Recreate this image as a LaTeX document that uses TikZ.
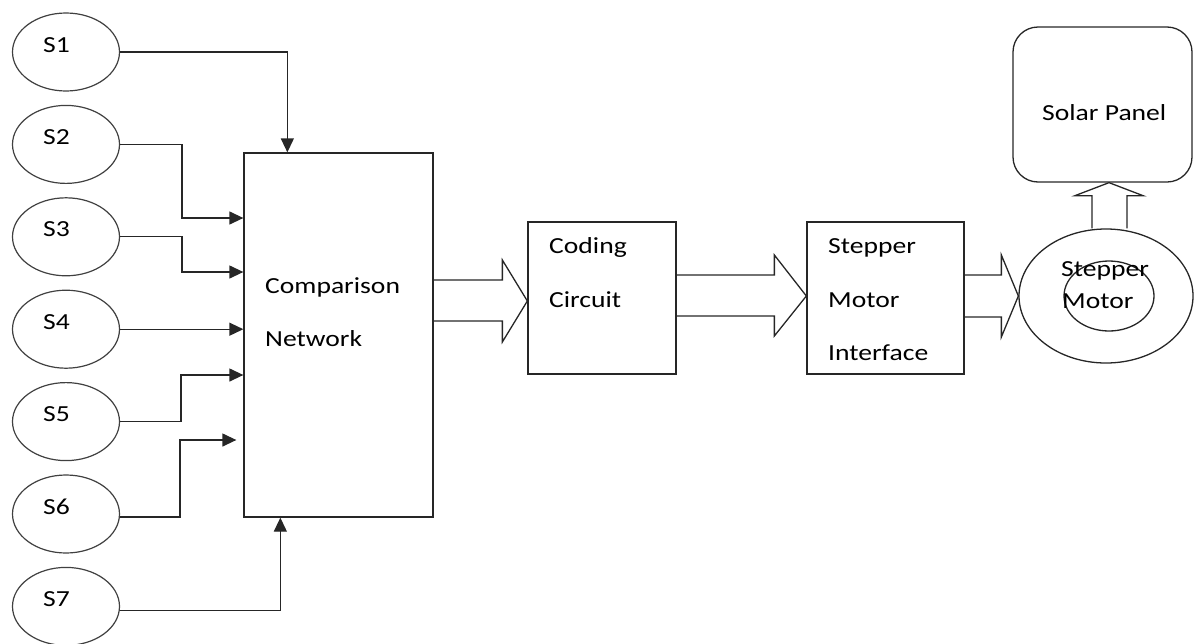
\documentclass[tikz,border=0pt]{standalone}
\usepackage{fontspec}
\setmainfont{Carlito}[FakeStretch=1.2]
\usetikzlibrary{arrows.meta,shapes.geometric,calc}

\tikzset{
  line/.style={draw=black!85, line width=1.3pt},
  sensor/.style={ellipse, draw=black!75, line width=1.2pt, minimum width=107pt, minimum height=78pt, inner sep=0pt},
  block/.style={rectangle, line, inner sep=0pt},
  txt/.style={anchor=base west, inner sep=0pt, font=\fontsize{23}{28}\selectfont},
  sig/.style={line, -{Triangle[length=14pt,width=13pt]}},
  fat/.style={line, line join=miter},
}

\begin{document}
\begin{tikzpicture}[x=1pt,y=-1pt]
  \useasboundingbox (0,0) rectangle (1194,643);
  % sensors
  \foreach \i in {1,...,7} {
    \node[sensor] (s\i) at (66,{52+92.4*(\i-1)}) {};
    \node[txt] (l\i) at (43,{52+92.4*(\i-1)}) {S\i};
  }
  % blocks
  \node[block, minimum width=189pt, minimum height=364pt] (cmp) at (338.5,335) {};
  \node[block, minimum width=148pt, minimum height=152pt] (cod) at (602,298) {};
  \node[block, minimum width=157pt, minimum height=152pt] (sti) at (885.5,298) {};
  \node[block, rounded corners=25pt, minimum width=179pt, minimum height=155pt] (sol) at (1102.5,104.5) {};
  \node[ellipse, line, minimum width=174pt, minimum height=134pt, inner sep=0pt] (mot) at (1106,296) {};
  \node[ellipse, line, minimum width=90pt, minimum height=70pt, inner sep=0pt] (rot) at (1109,296) {};
  % texts
  \node[txt] (cmp1) at (265,293) {Comparison};
  \node[txt] (cmp2) at (265,346) {Network};
  \node[txt] (cod1) at (549,253) {Coding};
  \node[txt] (cod2) at (549,307) {Circuit};
  \node[txt] (sti1) at (828,253) {Stepper};
  \node[txt] (sti2) at (828,307) {Motor};
  \node[txt] (sti3) at (828,360) {Interface};
  \node[txt] (mot1) at (1061,276) {Stepper};
  \node[txt] (mot2) at (1062,308) {Motor};
  \node[txt] (sol1) at (1042,120) {Solar Panel};
  % sensor lines
  \draw[sig] (s1.east) -| ([xshift=44pt]cmp.north west);
  \draw[sig] (s2.east) -- ++(62,0) |- (cmp.west |- 0,218);
  \draw[sig] (s3.east) -- ++(62,0) |- (cmp.west |- 0,272);
  \draw[sig] (s4.east) -- (cmp.west |- s4.east);
  \draw[sig] (s5.east) -- ++(61,0) |- (cmp.west |- 0,375);
  \draw[sig, shorten >=7pt] ([yshift=-3pt]s6.east) -- ++(60,0) |- (cmp.west |- 0,440);
  \draw[sig] ([yshift=-4pt]s7.east) -| ([xshift=37pt]cmp.south west);
  % block arrows
  \draw[fat] let \p1=(cmp.east), \p2=(cod.west) in
    (\x1,-280pt) -- (\x2-25pt,-280pt) -- (\x2-25pt,-260pt) -- (\x2,-301pt)
    -- (\x2-25pt,-342pt) -- (\x2-25pt,-321pt) -- (\x1,-321pt);
  \draw[fat] let \p1=(cod.east), \p2=(sti.west) in
    (\x1,-275pt) -- (\x2-32pt,-275pt) -- (\x2-32pt,-255pt) -- (\x2,-296pt)
    -- (\x2-32pt,-336pt) -- (\x2-32pt,-316pt) -- (\x1,-316pt);
  \draw[fat] let \p1=(sti.east), \p2=(mot.west) in
    (\x1,-275pt) -- (\x2-17pt,-275pt) -- (\x2-17pt,-255pt) -- (\x2,-296pt)
    -- (\x2-17pt,-337pt) -- (\x2-17pt,-317pt) -- (\x1,-317pt);
  \draw[fat] let \p1=(mot.north), \p2=(sol.south) in
    (1092pt,\y1) -- (1092pt,\y2-13pt) -- (1075pt,\y2-13pt) -- (1109pt,\y2)
    -- (1143pt,\y2-13pt) -- (1127pt,\y2-13pt) -- (1127pt,\y1);
\end{tikzpicture}
\end{document}
